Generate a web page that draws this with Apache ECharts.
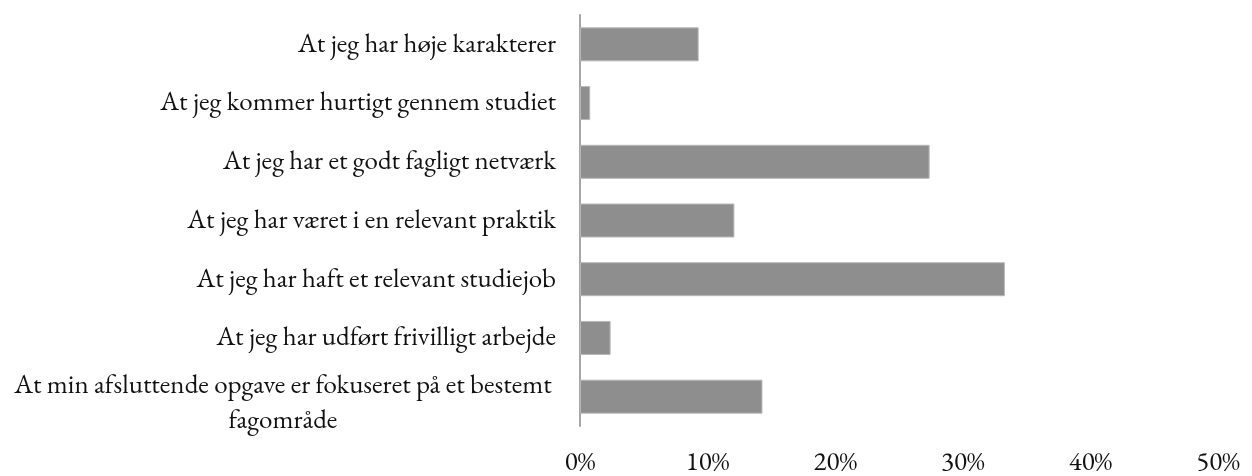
<!DOCTYPE html>
<html>
<head>
<meta charset="utf-8">
<script src="https://cdn.jsdelivr.net/npm/echarts@6/dist/echarts.min.js"></script>
<style>
  html, body { margin: 0; padding: 0; background: #fff; }
  #chart { width: 1252px; height: 476px; }
</style>
</head>
<body>
<div id="chart"></div>
<script>
// kategorier, oppefra og ned
const categories = [
  'At jeg har høje karakterer',
  'At jeg kommer hurtigt gennem studiet',
  'At jeg har et godt fagligt netværk',
  'At jeg har været i en relevant praktik',
  'At jeg har haft et relevant studiejob',
  'At jeg har udført frivilligt arbejde',
  'At min afsluttende opgave er fokuseret på et bestemt\nfagområde'
];
const values = [9.3, 0.8, 27.4, 12.1, 33.3, 2.4, 14.3];
const ticks = [0, 10, 20, 30, 40, 50];

const fontFamily = '"EB Garamond", Garamond, "Liberation Serif", "DejaVu Serif", serif';

const chart = echarts.init(document.getElementById('chart'));
const option = {
  animation: false,
  grid: {
    left: 580,
    right: 34,
    top: 15,
    bottom: 46,
    containLabel: false
  },
  xAxis: {
    type: 'value',
    min: ticks[0],
    max: ticks[ticks.length - 1],
    interval: 10,
    axisLine: { show: false },
    axisTick: { show: false },
    splitLine: { show: false },
    axisLabel: {
      margin: 23,
      color: '#111',
      fontSize: 27,
      fontFamily: fontFamily,
      formatter: '{value}%'
    }
  },
  yAxis: {
    type: 'category',
    inverse: true,
    data: categories,
    axisLine: { show: true, lineStyle: { color: '#a6a6a6', width: 2 } },
    axisTick: { show: false },
    axisLabel: {
      margin: 24,
      color: '#111',
      fontSize: 27,
      lineHeight: 35,
      fontFamily: fontFamily,
      align: 'right',
      formatter: function (v) {
        // lang etiket: linjerne centreres i blokken
        return v.indexOf('\n') >= 0 ? '{c|' + v + '}' : v;
      },
      rich: {
        c: {
          width: 546,
          align: 'center',
          fontSize: 27,
          lineHeight: 35,
          padding: [14, 0, 0, 0],
          fontFamily: fontFamily,
          color: '#111'
        }
      }
    }
  },
  series: [
    {
      type: 'bar',
      data: values,
      barWidth: 34,
      itemStyle: {
        color: '#8e8e8e',
        borderColor: '#b8b8b8',
        borderWidth: 1
      }
    }
  ]
};
chart.setOption(option);
</script>
</body>
</html>
